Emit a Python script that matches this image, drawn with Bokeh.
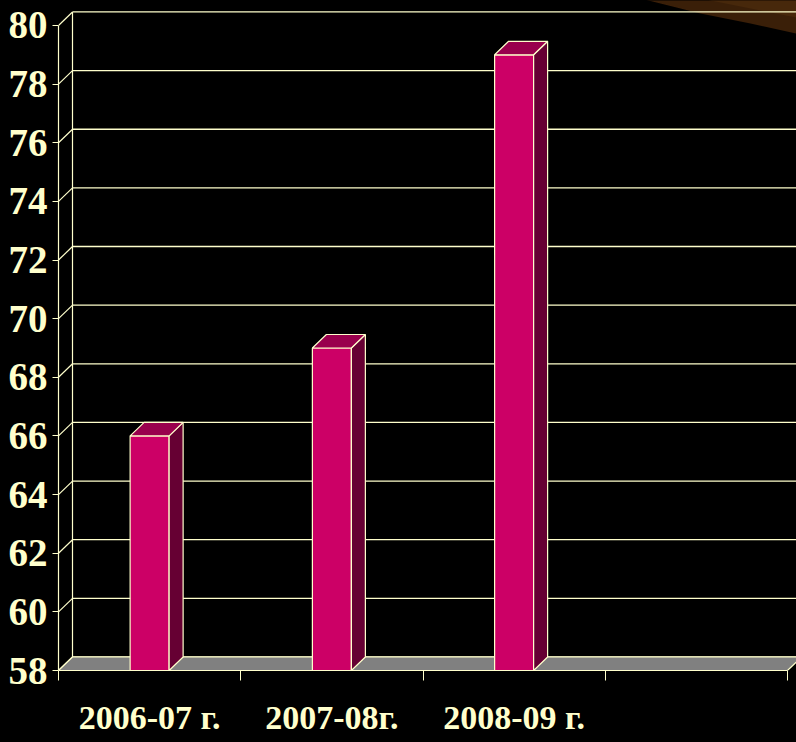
from bokeh.plotting import figure
from bokeh.models import FixedTicker, Range1d, CustomJSTickFormatter
from bokeh.embed import file_html
from bokeh.resources import INLINE

# ---- data ----
categories = ["2006-07 г.", "2007-08г.", "2008-09 г."]
values = [66, 69, 79]
n_slots = 4
y_ticks = list(range(58, 81, 2))
y_min, y_axis_max = 58, 80

# ---- layout / style ----
cream = "#FFFFCC"
W, H = 796, 742
left_b, bottom_b = 58, 72
frame_w = W - left_b
frame_h = H - bottom_b
slot_px = 182.25
unit_px = 29.32
x_end = frame_w / slot_px
y_top = y_min + frame_h / unit_px
dx = 14 / slot_px          # 3D depth in x units
dy = 13.5 / unit_px        # 3D depth in y units
bw = 39 / slot_px          # bar width

p = figure(width=W, height=H, x_range=Range1d(0, x_end), y_range=Range1d(y_min, y_top),
           output_backend="svg", toolbar_location=None,
           min_border_left=left_b, min_border_right=0, min_border_top=0,
           min_border_bottom=bottom_b, background_fill_color="black",
           border_fill_color="black", outline_line_color=None)
p.grid.visible = False

# decorative brown swoosh (slide background), positioned relative to frame
def px2x(px):
    return (px - left_b) / slot_px

def py2y(py):
    return y_min + (frame_h - py) / unit_px

sw_px = [640, 700, 750, 800, 800]
sw_py = [-2, 13, 23, 34, -2]
p.patch([px2x(a) for a in sw_px], [py2y(b) for b in sw_py],
        fill_color="#3a1f08", line_color=None)
sw2_px = [700, 760, 800, 800]
sw2_py = [-2, 10, 18, -2]
p.patch([px2x(a) for a in sw2_px], [py2y(b) for b in sw2_py],
        fill_color="#4d2c0d", line_color=None, fill_alpha=0.7)

# back wall gridlines
back_y = [v + dy for v in y_ticks]
p.segment(x0=dx, y0=back_y, x1=x_end + 1, y1=back_y, line_color=cream, line_width=1.3)
# connectors from front axis to back wall
p.segment(x0=0, y0=y_ticks, x1=dx, y1=back_y, line_color=cream, line_width=1.2)
# back wall left edge
p.segment(x0=dx, y0=y_min + dy, x1=dx, y1=y_axis_max + dy, line_color=cream, line_width=1.2)

# floor
p.patch([0, n_slots, n_slots + dx, dx], [y_min, y_min, y_min + dy, y_min + dy],
        fill_color="#808080", line_color=cream, line_width=1.2)

# bars
centers = [i + 0.5 for i in range(len(categories))]
lefts = [c - bw / 2 for c in centers]
rights = [c + bw / 2 for c in centers]
p.quad(left=lefts, right=rights, bottom=y_min, top=values,
       fill_color="#CC0066", line_color=cream, line_width=1.2)
side_xs = [[r, r + dx, r + dx, r] for r in rights]
side_ys = [[y_min, y_min + dy, v + dy, v] for v in values]
p.patches(side_xs, side_ys, fill_color="#660033", line_color=cream, line_width=1.2)
top_xs = [[l, r, r + dx, l + dx] for l, r in zip(lefts, rights)]
top_ys = [[v, v, v + dy, v + dy] for v in values]
p.patches(top_xs, top_ys, fill_color="#99004D", line_color=cream, line_width=1.2)

# y axis
ya = p.yaxis[0]
ya.ticker = FixedTicker(ticks=y_ticks)
ya.bounds = (y_min, y_axis_max)
ya.axis_line_color = cream
ya.axis_line_width = 1.2
ya.major_tick_line_color = cream
ya.major_tick_out = 6
ya.major_tick_in = 0
ya.minor_tick_line_color = None
ya.major_label_text_font = "Liberation Serif"
ya.major_label_text_font_style = "bold"
ya.major_label_text_font_size = "39px"
ya.major_label_text_color = cream
ya.major_label_standoff = 5

# x axis
xa = p.xaxis[0]
xa.ticker = FixedTicker(ticks=centers, minor_ticks=list(range(n_slots + 1)))
xa.formatter = CustomJSTickFormatter(args=dict(labels=categories),
                                     code="return labels[Math.floor(tick)] || '';")
xa.bounds = (0, n_slots)
xa.axis_line_color = cream
xa.axis_line_width = 1.2
xa.major_tick_line_color = None
xa.major_tick_out = 0
xa.major_tick_in = 0
xa.minor_tick_line_color = cream
xa.minor_tick_out = 10
xa.minor_tick_in = 0
xa.major_label_text_font = "Liberation Serif"
xa.major_label_text_font_style = "bold"
xa.major_label_text_font_size = "34px"
xa.major_label_text_color = cream
xa.major_label_standoff = 18

html = file_html(p, INLINE)
html = html.replace("<head>", "<head><style>html,body{margin:0;padding:0;background:#000;overflow:hidden}</style>", 1)
open("out.html", "w").write(html)
